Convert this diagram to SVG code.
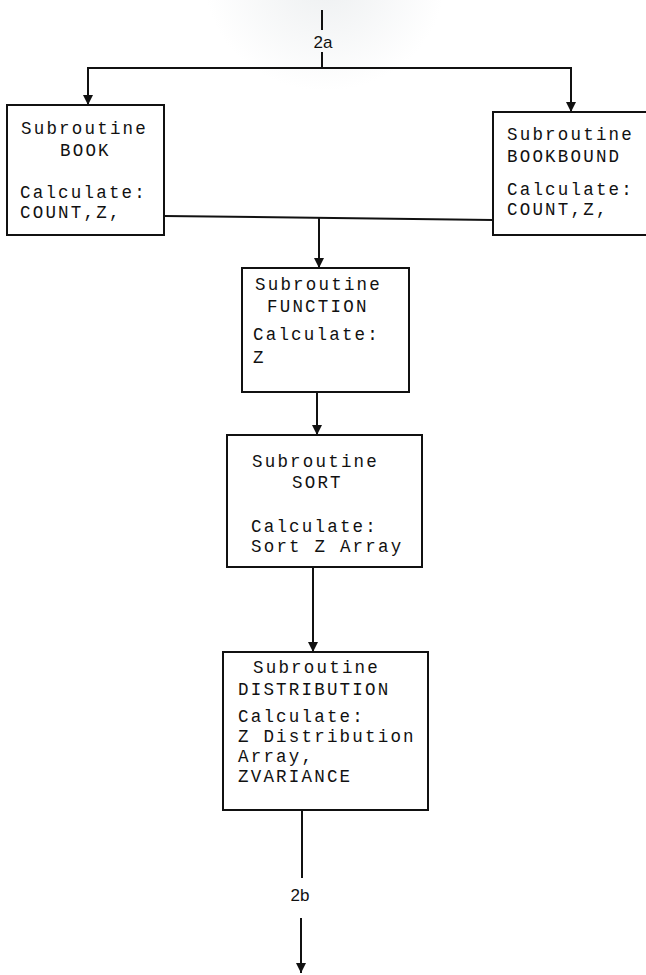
<svg xmlns="http://www.w3.org/2000/svg" width="646" height="975" viewBox="0 0 646 975">
  <style>
    .box { fill: #ffffff; stroke: #111111; stroke-width: 2; }
    .wire { fill: none; stroke: #111111; stroke-width: 2; }
    .mono { font-family: "Liberation Mono", "DejaVu Sans Mono", monospace; font-size: 17.5px; letter-spacing: 2.2px; fill: #111111; }
    .tag { font-family: "Liberation Sans", Arial, sans-serif; font-size: 17px; fill: #111111; text-anchor: middle; }
  </style>
  <defs>
    <marker id="arrow" viewBox="0 0 10 14" refX="10" refY="7" markerWidth="10" markerHeight="14" markerUnits="userSpaceOnUse" orient="auto">
      <path d="M0,2 L10,7 L0,12 Z" fill="#111111"/>
    </marker>
    <radialGradient id="haze" cx="0.5" cy="0.3" r="0.5">
      <stop offset="0" stop-color="#d8dde0" stop-opacity="0.45"/>
      <stop offset="1" stop-color="#d8dde0" stop-opacity="0"/>
    </radialGradient>
  </defs>

  <rect x="0" y="0" width="646" height="975" fill="#ffffff"/>
  <!-- soft grey tint across the top of the sheet -->
  <ellipse cx="325" cy="25" rx="120" ry="110" fill="url(#haze)"/>

  <g id="connectors">
    <!-- entry 2a -->
    <line class="wire" x1="322" y1="10" x2="322" y2="30"/>
    <text class="tag" x="323" y="48">2a</text>
    <line class="wire" x1="322" y1="52" x2="322" y2="68"/>
    <line class="wire" x1="87" y1="68" x2="572" y2="68"/>
    <line class="wire" x1="88" y1="68" x2="88" y2="105" marker-end="url(#arrow)"/>
    <line class="wire" x1="571" y1="68" x2="571" y2="112" marker-end="url(#arrow)"/>
    <!-- merge of BOOK and BOOKBOUND into FUNCTION -->
    <line class="wire" x1="164" y1="216" x2="493" y2="220"/>
    <line class="wire" x1="319" y1="218" x2="319" y2="268" marker-end="url(#arrow)"/>
    <!-- FUNCTION to SORT -->
    <line class="wire" x1="317" y1="392" x2="317" y2="435" marker-end="url(#arrow)"/>
    <!-- SORT to DISTRIBUTION -->
    <line class="wire" x1="313" y1="567" x2="313" y2="652" marker-end="url(#arrow)"/>
    <!-- exit 2b -->
    <line class="wire" x1="302" y1="810" x2="302" y2="878"/>
    <text class="tag" x="300" y="901">2b</text>
    <line class="wire" x1="301" y1="918" x2="301" y2="973" marker-end="url(#arrow)"/>
  </g>

  <g id="book">
    <rect class="box" x="7" y="105" width="157" height="130"/>
    <text class="mono" x="21" y="134">Subroutine</text>
    <text class="mono" x="60" y="156">BOOK</text>
    <text class="mono" x="20" y="198">Calculate:</text>
    <text class="mono" x="20" y="218">COUNT,Z,</text>
  </g>

  <g id="bookbound">
    <rect class="box" x="493" y="112" width="160" height="123"/>
    <text class="mono" x="507" y="140">Subroutine</text>
    <text class="mono" x="507" y="162">BOOKBOUND</text>
    <text class="mono" x="507" y="195">Calculate:</text>
    <text class="mono" x="507" y="215">COUNT,Z,</text>
  </g>

  <g id="function">
    <rect class="box" x="242" y="268" width="167" height="124"/>
    <text class="mono" x="255" y="290">Subroutine</text>
    <text class="mono" x="267" y="312">FUNCTION</text>
    <text class="mono" x="253" y="340">Calculate:</text>
    <text class="mono" x="253" y="363">Z</text>
  </g>

  <g id="sort">
    <rect class="box" x="227" y="435" width="195" height="132"/>
    <text class="mono" x="252" y="467">Subroutine</text>
    <text class="mono" x="292" y="488">SORT</text>
    <text class="mono" x="251" y="532">Calculate:</text>
    <text class="mono" x="251" y="552">Sort Z Array</text>
  </g>

  <g id="distribution">
    <rect class="box" x="223" y="652" width="205" height="158"/>
    <text class="mono" x="253" y="673">Subroutine</text>
    <text class="mono" x="238" y="695">DISTRIBUTION</text>
    <text class="mono" x="238" y="722">Calculate:</text>
    <text class="mono" x="238" y="742">Z Distribution</text>
    <text class="mono" x="238" y="762">Array,</text>
    <text class="mono" x="238" y="782">ZVARIANCE</text>
  </g>
</svg>
